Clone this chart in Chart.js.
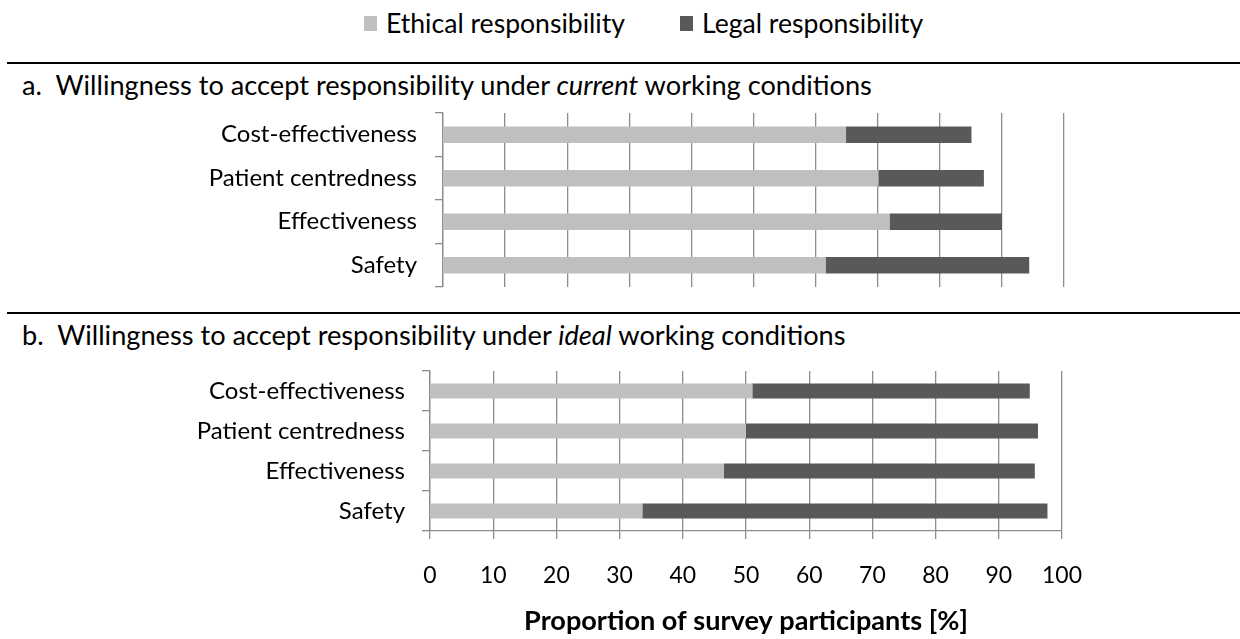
<!DOCTYPE html>
<html>
<head>
<meta charset="utf-8">
<script src="https://cdn.jsdelivr.net/npm/chart.js@4.4.1/dist/chart.umd.min.js"></script>
<style>
  body { margin: 0; background: #fff; font-family: Lato, "Open Sans", sans-serif; }
  #page { position: relative; width: 1240px; height: 639px; overflow: hidden; }
  .rule { position: absolute; left: 7px; width: 1233px; height: 2px; background: #000; }
  .head { position: absolute; left: 22px; color: #000; white-space: nowrap; line-height: 1; }
  .leg { position: absolute; top: 10px; height: 26px; display: flex; align-items: center; color: #000; white-space: nowrap; line-height: 1; }
  .leg .box { width: 13px; height: 15px; margin-right: 9px; }
  .caja { position: absolute; }
</style>
</head>
<body>
<div id="page">
  <div class="leg" style="left:364px"><div class="box" style="background:#bfbfbf"></div><span class="txt">Ethical responsibility</span></div>
  <div class="leg" style="left:680px"><div class="box" style="background:#595959"></div><span class="txt">Legal responsibility</span></div>
  <div class="rule" style="top:62px"></div>
  <div class="head" id="headA">a.&nbsp;&nbsp;Willingness to accept responsibility under <i>current</i> working conditions</div>
  <div class="caja" style="left:0;top:100px;width:1072px;height:195px"><canvas id="chartA"></canvas></div>
  <div class="rule" style="top:312px"></div>
  <div class="head" id="headB">b.&nbsp;&nbsp;Willingness to accept responsibility under <i>ideal</i> working conditions</div>
  <div class="caja" style="left:0;top:360px;width:1090px;height:279px"><canvas id="chartB"></canvas></div>
</div>
<script>
// datos (porcentaje)
const categorias = ['Cost-effectiveness', 'Patient centredness', 'Effectiveness', 'Safety'];
const eticaActual = [64.9, 70.1, 71.9, 61.6];
const legalActual = [20.2, 17.0, 18.1, 32.8];
const eticaIdeal = [51.0, 50.0, 46.5, 33.6];
const legalIdeal = [43.9, 46.2, 49.2, 64.1];
const ticksX = [0, 10, 20, 30, 40, 50, 60, 70, 80, 90, 100];

const colorEtica = '#bfbfbf';
const colorLegal = '#595959';
const colorGrid = '#8c8c8c';
const FUENTE = 'Lato, "Open Sans", sans-serif';

// calcula el tamano de letra para que el texto mida el ancho del original
const medir = document.createElement('canvas').getContext('2d');
const tamanoPara = (texto, ancho, peso) => {
  medir.font = `${peso || 'normal'} 100px ${FUENTE}`;
  return 100 * ancho / medir.measureText(texto).width;
};

// titulos a y b
const tamTitulo = tamanoPara('a.  Willingness to accept responsibility under current working conditions', 857);
[['headA', 95], ['headB', 345]].forEach(([id, base]) => {
  const el = document.getElementById(id);
  el.style.fontSize = tamTitulo + 'px';
  el.style.top = (base - 0.887 * tamTitulo) + 'px';
});
// leyenda
const tamLeyenda = tamanoPara('Ethical responsibility', 239);
document.querySelectorAll('.leg .txt').forEach(el => { el.style.fontSize = tamLeyenda + 'px'; });

const tamEtiqueta = tamanoPara('Cost-effectiveness', 196);
const tamTick = tamanoPara('100', 40);
const tamEje = tamanoPara('Proportion of survey participants [%]', 444, 'bold');

Chart.defaults.font.family = FUENTE;
Chart.defaults.color = '#000';
Chart.defaults.animation = false;

const crearGrafico = (id, etica, legal, opts) => {
  const ctx = document.getElementById(id).getContext('2d');
  return new Chart(ctx, {
    type: 'bar',
    data: {
      labels: categorias,
      datasets: [
        { label: 'Ethical responsibility', data: etica, backgroundColor: colorEtica,
          categoryPercentage: 1, barPercentage: 0.38 },
        { label: 'Legal responsibility', data: legal, backgroundColor: colorLegal,
          categoryPercentage: 1, barPercentage: 0.38 }
      ]
    },
    options: {
      indexAxis: 'y',
      responsive: true,
      maintainAspectRatio: false,
      layout: { padding: opts.padding },
      plugins: { legend: { display: false }, tooltip: { enabled: false } },
      scales: {
        x: {
          stacked: true, min: 0, max: 100,
          afterBuildTicks: s => { s.ticks = ticksX.map(v => ({ value: v })); },
          grid: { color: colorGrid, lineWidth: 1.3, drawTicks: opts.xLabels, tickLength: 8 },
          border: { display: opts.xLabels, color: colorGrid, width: 1.3 },
          ticks: { display: opts.xLabels, font: { size: tamTick }, padding: 23, color: '#000', maxRotation: 0 },
          title: { display: opts.xLabels, text: 'Proportion of survey participants [%]',
                   font: { size: tamEje, weight: 'bold' }, padding: { top: 0, bottom: 1 } },
          afterFit: s => { s.height = opts.xAltura; s.paddingLeft = 0; s.paddingRight = 0; }
        },
        y: {
          stacked: true,
          afterFit: s => { s.width = opts.ejeIzq; s.paddingTop = 0; s.paddingBottom = 0; },
          grid: { offset: true, drawOnChartArea: false, drawTicks: true, tickLength: 8, color: colorGrid, lineWidth: 1.3 },
          border: { color: colorGrid, width: 1.3 },
          ticks: { font: { size: tamEtiqueta }, padding: opts.padEtiqueta, color: '#000' }
        }
      }
    }
  });
};

crearGrafico('chartA', eticaActual, legalActual,
  { ejeIzq: 443, xLabels: false, xAltura: 0, padEtiqueta: 18, padding: { top: 13, right: 8, bottom: 8, left: 0 } });
crearGrafico('chartB', eticaIdeal, legalIdeal,
  { ejeIzq: 430, xLabels: true, xAltura: 108, padEtiqueta: 17, padding: { top: 11, right: 28, bottom: 0, left: 0 } });
</script>
</body>
</html>
